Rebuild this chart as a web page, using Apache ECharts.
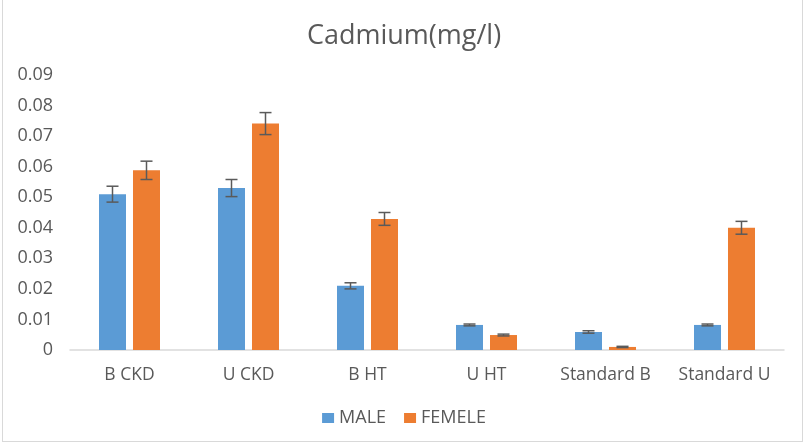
<!DOCTYPE html>
<html>
<head>
<meta charset="utf-8">
<script src="https://cdn.jsdelivr.net/npm/echarts@6/dist/echarts.min.js"></script>
<style>
html,body{margin:0;padding:0;background:#fff;}
#wrap{position:absolute;left:0;top:0;width:808px;height:444px;}
#frame{position:absolute;left:2px;top:-2px;width:801px;height:444px;border:1px solid #d9d9d9;box-sizing:border-box;pointer-events:none;}
#chart{position:absolute;left:0;top:0;width:808px;height:444px;}
</style>
</head>
<body>
<div id="wrap"><div id="chart"></div><div id="frame"></div></div>
<script>
const categories = ['B CKD', 'U CKD', 'B HT', 'U HT', 'Standard B', 'Standard U'];
const maleValues = [0.051, 0.053, 0.021, 0.0082, 0.0059, 0.0082];
const femaleValues = [0.0588, 0.0741, 0.0429, 0.0049, 0.001, 0.040];
const maleErrors = [0.0026, 0.0028, 0.001, 0.0003, 0.0004, 0.0003];
const femaleErrors = [0.003, 0.0036, 0.0021, 0.0003, 0.0002, 0.0021];
const yTicks = [0, 0.01, 0.02, 0.03, 0.04, 0.05, 0.06, 0.07, 0.08, 0.09];

const FONT = "'Open Sans', 'Liberation Sans', sans-serif";
const BAR_W = 27, GAP = 7;
const OFFSET = (BAR_W + GAP) / 2;

function errData(vals, errs) {
  return vals.map((v, i) => [i, v - errs[i], v + errs[i]]);
}
function errSeries(name, vals, errs, sign) {
  return {
    type: 'custom',
    name: name + ' err',
    data: errData(vals, errs),
    encode: { x: 0, y: [1, 2] },
    z: 10,
    silent: true,
    renderItem: function (params, api) {
      const lo = api.coord([api.value(0), api.value(1)]);
      const hi = api.coord([api.value(0), api.value(2)]);
      const x = lo[0] + sign * OFFSET;
      const cap = 6;
      const style = { stroke: '#5a5a5a', lineWidth: 1.5 };
      return {
        type: 'group',
        children: [
          { type: 'line', shape: { x1: x, y1: lo[1], x2: x, y2: hi[1] }, style: style },
          { type: 'line', shape: { x1: x - cap, y1: lo[1], x2: x + cap, y2: lo[1] }, style: style },
          { type: 'line', shape: { x1: x - cap, y1: hi[1], x2: x + cap, y2: hi[1] }, style: style }
        ]
      };
    }
  };
}

const chart = echarts.init(document.getElementById('chart'), null, { renderer: 'canvas' });
chart.setOption({
  animation: false,
  backgroundColor: '#fff',
  title: {
    text: 'Cadmium(mg/l)',
    left: 'center',
    top: 18,
    textStyle: { fontFamily: FONT, fontSize: 27, fontWeight: 'normal', color: '#595959' }
  },
  legend: {
    data: ['MALE', 'FEMELE'],
    top: 404,
    left: 'center',
    itemWidth: 12,
    itemHeight: 10,
    itemGap: 18,
    icon: 'rect',
    textStyle: { fontFamily: FONT, fontSize: 18, color: '#595959' }
  },
  grid: { left: 70, right: 24, top: 75, bottom: 94, containLabel: false },
  xAxis: {
    type: 'category',
    data: categories,
    axisLine: { lineStyle: { color: '#d9d9d9', width: 1.5 } },
    axisTick: { show: false },
    axisLabel: { interval: 0, hideOverlap: false, fontFamily: FONT, fontSize: 17.5, color: '#595959', margin: 16 }
  },
  yAxis: {
    type: 'value',
    min: 0,
    max: 0.09,
    interval: 0.01,
    splitLine: { show: false },
    axisLine: { show: false },
    axisTick: { show: false },
    axisLabel: {
      fontFamily: FONT, fontSize: 18, color: '#595959', margin: 17,
      formatter: function (v) {
        const t = yTicks.find(k => Math.abs(k - v) < 1e-9);
        return t === 0 ? '0' : String(+(t !== undefined ? t : v).toFixed(2));
      }
    }
  },
  series: [
    { name: 'MALE', type: 'bar', data: maleValues, barWidth: BAR_W, barGap: (GAP / BAR_W * 100).toFixed(1) + '%', itemStyle: { color: '#5b9bd5' } },
    { name: 'FEMELE', type: 'bar', data: femaleValues, barWidth: BAR_W, itemStyle: { color: '#ed7d31' } },
    errSeries('MALE', maleValues, maleErrors, -1),
    errSeries('FEMELE', femaleValues, femaleErrors, 1)
  ]
});
</script>
</body>
</html>
